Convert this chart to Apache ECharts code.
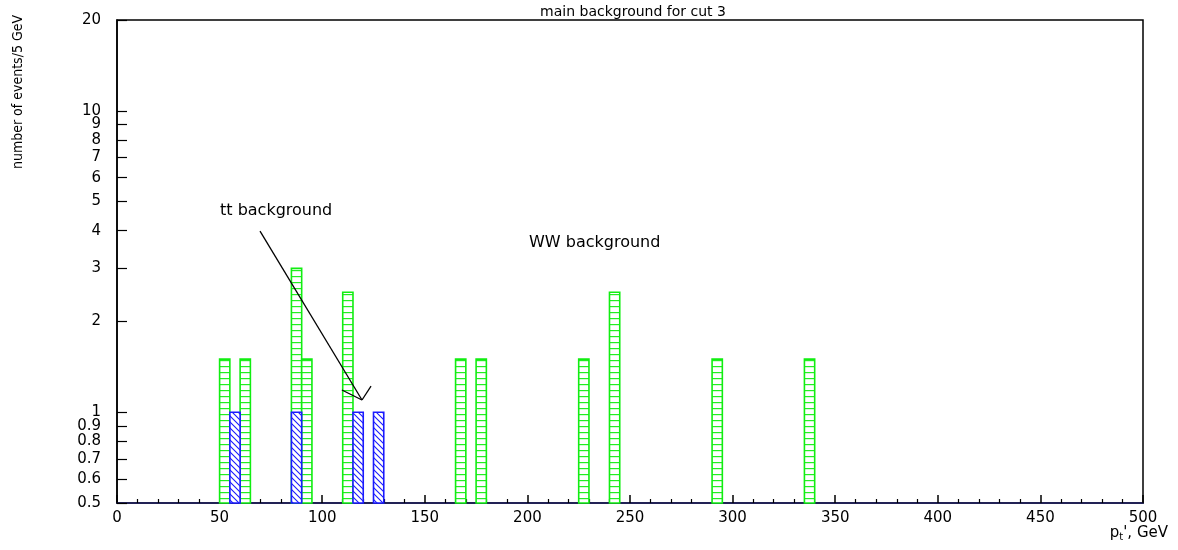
<!DOCTYPE html>
<html><head><meta charset="utf-8">
<script src="https://cdn.jsdelivr.net/npm/echarts@6/dist/echarts.min.js"></script>
<style>html,body{margin:0;padding:0;background:#fff}#c{width:1178px;height:550px}</style>
</head><body><div id="c"></div>
<script>
// Histogram bins (GeV): [low edge, high edge, events]
const wwBins = [
  [50, 55, 1.5], [60, 65, 1.5], [85, 90, 3.0], [90, 95, 1.5], [110, 115, 2.5],
  [165, 170, 1.5], [175, 180, 1.5], [225, 230, 1.5], [240, 245, 2.5],
  [290, 295, 1.5], [335, 340, 1.5]
];
const ttBins = [
  [55, 60, 1.0], [85, 90, 1.0], [115, 120, 1.0], [125, 130, 1.0]
];
const yTicks = [0.5, 0.6, 0.7, 0.8, 0.9, 1, 2, 3, 4, 5, 6, 7, 8, 9, 10, 20];
const titleText = 'main background for cut 3';
const yName = 'number of events/5 GeV';
// annotation anchor points in data coordinates
const ttLabelPos = [50.2, 4.65];
const wwLabelPos = [200.8, 3.64];
const arrowLine = [[69.7, 3.99], [119.4, 1.098]];
const arrowHead1 = [[119.4, 1.098], [123.8, 1.22]];
const arrowHead2 = [[119.4, 1.098], [109.6, 1.185]];

function makePattern(kind) {
  const c = document.createElement('canvas');
  const ctx = c.getContext('2d');
  if (kind === 'h') {
    c.width = 8; c.height = 6;
    ctx.fillStyle = '#ffffff'; ctx.fillRect(0, 0, 8, 6);
    ctx.fillStyle = '#22ee22'; ctx.fillRect(0, 0, 8, 1.2);
  } else {
    c.width = 6; c.height = 6;
    ctx.fillStyle = '#ffffff'; ctx.fillRect(0, 0, 6, 6);
    ctx.strokeStyle = '#1a1aff'; ctx.lineWidth = 1.1;
    ctx.beginPath();
    ctx.moveTo(-1, -1); ctx.lineTo(7, 7);
    ctx.moveTo(-4, 2); ctx.lineTo(4, 10);
    ctx.moveTo(2, -4); ctx.lineTo(10, 4);
    ctx.stroke();
  }
  return { image: c, repeat: 'repeat' };
}
const greenFill = makePattern('h');
const blueFill = makePattern('d');

function histRender(fill, stroke) {
  return function (params, api) {
    const p0 = api.coord([api.value(0), api.value(2)]);
    const p1 = api.coord([api.value(1), 0.5]);
    return {
      type: 'rect',
      shape: { x: p0[0], y: p0[1], width: p1[0] - p0[0], height: p1[1] - p0[1] },
      style: { fill: fill, stroke: stroke, lineWidth: 1.6 }
    };
  };
}

const chart = echarts.init(document.getElementById('c'), null, { renderer: 'canvas' });
const lineStyleAnno = { color: '#000', width: 1.3, type: 'solid' };
chart.setOption({
  animation: false,
  backgroundColor: '#fff',
  title: {
    text: titleText, left: 628, top: 0, textAlign: 'center',
    textStyle: { fontFamily: 'DejaVu Sans', fontSize: 14, fontWeight: 'normal', color: '#000' }
  },
  grid: { left: 117, right: 35, top: 20, bottom: 47, show: true, borderColor: '#000', borderWidth: 1.5, backgroundColor: 'transparent' },
  xAxis: {
    type: 'value', min: 0, max: 500, interval: 50,
    axisLine: { lineStyle: { color: '#222255', width: 2 } },
    axisTick: { inside: true, length: 8, lineStyle: { color: '#000', width: 1.5 } },
    minorTick: { show: true, splitNumber: 5, length: 4, lineStyle: { color: '#000', width: 1.2 } },
    splitLine: { show: false },
    axisLabel: { fontFamily: 'DejaVu Sans', fontSize: 15, color: '#000', margin: 8 }
  },
  yAxis: {
    type: 'log', logBase: 10, min: 0.5, max: 20,
    axisLine: { show: true, lineStyle: { color: '#000', width: 1.5 } },
    axisTick: { show: true, inside: true, length: 10, customValues: yTicks, lineStyle: { color: '#000', width: 1.2 } },
    splitLine: { show: false },
    axisLabel: { customValues: yTicks, fontFamily: 'DejaVu Sans', fontSize: 15, color: '#000', margin: 16, formatter: v => String(+v.toPrecision(3)) }
  },
  series: [
    {
      type: 'custom', name: 'WW', renderItem: histRender(greenFill, '#11ee11'),
      data: wwBins, z: 2,
      markLine: {
        silent: true, symbol: ['none', 'none'], label: { show: false },
        lineStyle: lineStyleAnno,
        data: [
          [{ coord: arrowLine[0] }, { coord: arrowLine[1] }],
          [{ coord: arrowHead1[0] }, { coord: arrowHead1[1] }],
          [{ coord: arrowHead2[0] }, { coord: arrowHead2[1] }]
        ]
      }
    },
    { type: 'custom', name: 'tt', renderItem: histRender(blueFill, '#1a1aff'), data: ttBins, z: 3 }
  ]
});

const p1 = chart.convertToPixel({ gridIndex: 0 }, ttLabelPos);
const p2 = chart.convertToPixel({ gridIndex: 0 }, wwLabelPos);
const txt = { fontFamily: 'DejaVu Sans', fontSize: 16, fill: '#000', textVerticalAlign: 'middle' };
chart.setOption({
  graphic: [
    { type: 'text', x: p1[0], y: p1[1], style: Object.assign({ text: 'tt background' }, txt) },
    { type: 'text', x: p2[0], y: p2[1], style: Object.assign({ text: 'WW background' }, txt) },
    { type: 'text', x: 18, y: 92, rotation: Math.PI / 2,
      style: { text: yName, fontFamily: 'DejaVu Sans Condensed, Liberation Sans Narrow, DejaVu Sans', fontSize: 14, fill: '#000', textAlign: 'center', textVerticalAlign: 'middle' } },
    { type: 'text', x: 1168, y: 533,
      style: { text: "{p|p}{s|t}{p|', GeV}", textAlign: 'right', textVerticalAlign: 'middle',
        rich: { p: { fontFamily: 'DejaVu Sans', fontSize: 15, fill: '#000' }, s: { fontFamily: 'DejaVu Sans', fontSize: 10, fill: '#000', padding: [8, 0, 0, 0] } } } }
  ]
});
</script></body></html>
